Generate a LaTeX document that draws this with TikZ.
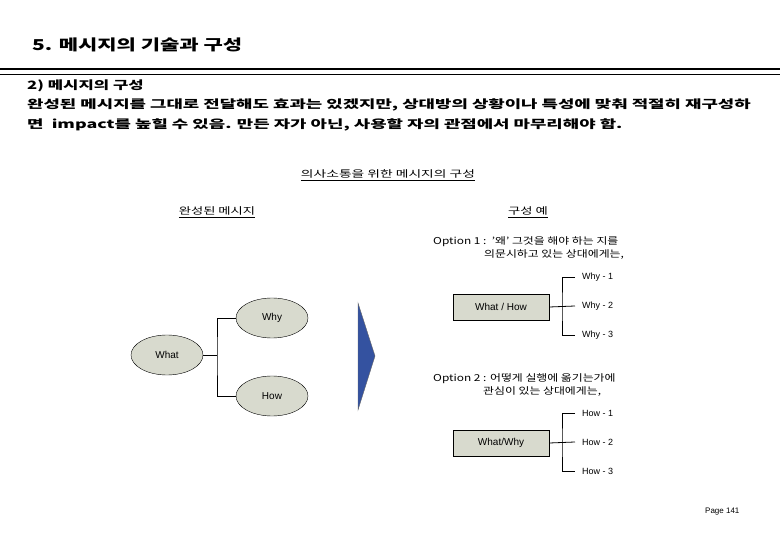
\documentclass[tikz,border=0pt]{standalone}
\usepackage{fontspec}
\setmainfont{Noto Sans CJK KR}
\newfontfamily\lat{Liberation Sans}
\usetikzlibrary{shapes.geometric,calc}
\newcommand{\wx}[2]{\scalebox{#1}[1]{#2}}
\begin{document}
\begin{tikzpicture}[x=1pt,y=-1pt,
  ell/.style={draw,ellipse,fill=ellfill,minimum width=72pt,minimum height=40pt,font=\lat\fontsize{10}{12}\selectfont},
  boxx/.style={draw,fill=ellfill,minimum width=96pt,minimum height=26pt,font=\lat\fontsize{10}{12}\selectfont},
  sm/.style={font=\fontsize{9.5}{10}\selectfont,anchor=west,inner sep=0pt},
  lbl/.style={font=\lat\fontsize{9}{10}\selectfont,anchor=west,inner sep=0pt},
  bd/.style={anchor=west,inner sep=0pt,font=\bfseries\fontsize{11.5}{14}\selectfont},
  ln/.style={line width=0.8pt}]
\definecolor{ellfill}{RGB}{216,218,206}
\definecolor{tri}{RGB}{52,82,160}
\useasboundingbox (0,0) rectangle (780,540);
\node[anchor=west,inner sep=0pt,font=\bfseries\fontsize{15}{18}\selectfont] (title) at (32,45) {\wx{1.4}{5. 메시지의 기술과 구성}};
\draw[line width=2.5pt] (0,69) -- (780,69);
\draw[line width=0.8pt] (0,74) -- (780,74);
\node[bd] (h2) at (27,86) {\wx{1.45}{2) 메시지의 구성}};
\node[bd] (l1) at (27,105) {\wx{1.55}{완성된 메시지를 그대로 전달해도 효과는 있겠지만, 상대방의 상황이나 특성에 맞춰 적절히 재구성하}};
\node[bd] (l2) at (27,125) {\wx{1.55}{면\ \ impact를 높힐 수 있음. 만든 자가 아닌, 사용할 자의 관점에서 마무리해야 함.}};
\node[inner sep=0pt,font=\fontsize{9.5}{10}\selectfont] (cap) at (388,175) {\wx{1.45}{\underline{의사소통을 위한 메시지의 구성}}};
\node[inner sep=0pt,font=\fontsize{9.5}{10}\selectfont] (c1) at (217,212) {\wx{1.4}{\underline{완성된 메시지}}};
\node[inner sep=0pt,font=\fontsize{9.5}{10}\selectfont] (c2) at (528,212) {\wx{1.4}{\underline{구성 예}}};
\node[ell] (why) at (272,318) {Why};
\node[ell] (what) at (167,355) {What};
\node[ell] (how) at (272,396) {How};
\coordinate (j1) at (217,355);
\draw[ln] (what.east) -- (j1) (why.west) -| (j1) |- (how.west);
\fill[tri,draw=black!60] (358,303) -- (375,356) -- (358,410) -- cycle;
\node[sm] (o1) at (433,242) {\wx{1.25}{Option 1 :\ \ '왜' 그것을 해야 하는 지를}};
\node[sm] (o1b) at (484,254) {\wx{1.25}{의문시하고 있는 상대에게는,}};
\node[boxx] (wh) at (501,307) {What / How};
\node[lbl] (y1) at (582,277) {Why - 1};
\node[lbl] (y2) at (582,306) {Why - 2};
\node[lbl] (y3) at (582,335) {Why - 3};
\coordinate (j2) at (562,307);
\draw[ln] (wh.east) -- ($(y2.west)+(-7,0)$);
\draw[ln] ($(y1.west)+(-7,0)$) -| (j2) |- ($(y3.west)+(-7,0)$);
\node[sm] (o2) at (433,379) {\wx{1.25}{Option 2 : 어떻게 실행에 옮기는가에}};
\node[sm] (o2b) at (483,391) {\wx{1.25}{관심이 있는 상대에게는,}};
\node[boxx] (ww) at (501,443) {What/Why};
\node[lbl] (h1) at (582,413) {How - 1};
\node[lbl] (h2n) at (582,442) {How - 2};
\node[lbl] (h3) at (582,471) {How - 3};
\coordinate (j3) at (562,443);
\draw[ln] (ww.east) -- ($(h2n.west)+(-7,0)$);
\draw[ln] ($(h1.west)+(-7,0)$) -| (j3) |- ($(h3.west)+(-7,0)$);
\node[lbl,font=\lat\fontsize{8}{10}\selectfont] (pg) at (705,512) {Page 141};
\end{tikzpicture}
\end{document}
